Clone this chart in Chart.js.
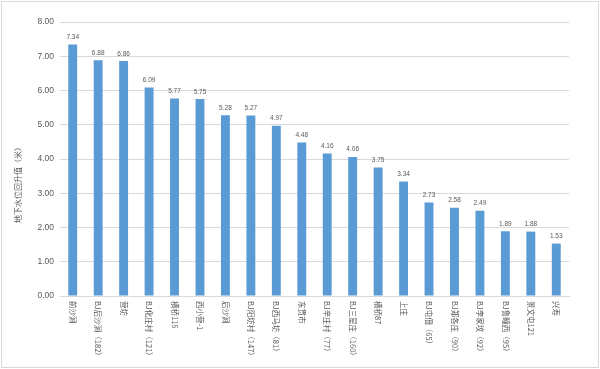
<!DOCTYPE html>
<html>
<head>
<meta charset="utf-8">
<script src="https://cdn.jsdelivr.net/npm/chart.js@4.4.1/dist/chart.umd.min.js"></script>
<style>
  html, body { margin: 0; padding: 0; background: #fff; }
  #wrap { width: 600px; height: 369px; position: relative; }
</style>
</head>
<body>
<div id="wrap"><canvas id="waterChart" width="600" height="369"></canvas></div>
<script>
const stations = ['前沙涧', 'BJ后沙涧（182）', '营坊', 'BJ化庄村（121）', '横桥116', '西小营-1', '后沙涧',
    'BJ阳坊村（147）', 'BJ西马坊（81）', '东贯市', 'BJ辛庄村（77）', 'BJ三星庄（160）', '横桥87', '上庄',
    'BJ屯佃（65）', 'BJ郑各庄（90）', 'BJ李家坟（92）', 'BJ鲁疃西（95）', '景文屯121', '兴寿'];
const riseValues = [7.34, 6.88, 6.86, 6.09, 5.77, 5.75, 5.28, 5.27, 4.97, 4.48,
    4.16, 4.06, 3.75, 3.34, 2.73, 2.58, 2.49, 1.89, 1.88, 1.53];
const yTicks = [0, 1, 2, 3, 4, 5, 6, 7, 8];
const yTitle = '地下水位回升值（米）';

const textColor = '#595959';
const cjkFont = '"Noto Sans CJK SC", "Noto Sans", sans-serif';

// frame, value labels, rotated category labels and y title
const extrasPlugin = {
    id: 'extras',
    beforeDraw(chart) {
        const ctx = chart.ctx;
        ctx.save();
        ctx.fillStyle = '#fff';
        ctx.fillRect(0, 0, chart.width, chart.height);
        ctx.strokeStyle = '#d9d9d9';
        ctx.lineWidth = 1;
        ctx.strokeRect(1.5, 1.5, chart.width - 3, chart.height - 3);
        ctx.restore();
    },
    afterDraw(chart) {
        const ctx = chart.ctx;
        const meta = chart.getDatasetMeta(0);
        const xScale = chart.scales.x;
        const area = chart.chartArea;
        ctx.save();

        // value labels
        ctx.fillStyle = textColor;
        ctx.font = '6.5px "Liberation Sans", Arial, sans-serif';
        ctx.textAlign = 'center';
        ctx.textBaseline = 'bottom';
        meta.data.forEach((bar, i) => {
            ctx.fillText(riseValues[i].toFixed(2), bar.x, bar.y - 4);
        });

        // category labels, rotated clockwise
        ctx.font = '7.5px ' + cjkFont;
        ctx.textAlign = 'left';
        ctx.textBaseline = 'middle';
        stations.forEach((name, i) => {
            const x = xScale.getPixelForValue(i);
            ctx.save();
            ctx.translate(x, area.bottom + 5);
            ctx.rotate(Math.PI / 2);
            ctx.fillText(name, 0, 0);
            ctx.restore();
        });

        // y axis title
        ctx.font = '8px ' + cjkFont;
        ctx.textAlign = 'center';
        ctx.textBaseline = 'middle';
        ctx.translate(18, 183);
        ctx.rotate(-Math.PI / 2);
        ctx.fillText(yTitle, 0, 0);
        ctx.restore();
    }
};

const ctx = document.getElementById('waterChart').getContext('2d');
new Chart(ctx, {
    type: 'bar',
    data: {
        labels: stations,
        datasets: [{
            data: riseValues,
            backgroundColor: '#5b9bd5',
            borderWidth: 0,
            barPercentage: 0.7,
            categoryPercentage: 0.5
        }]
    },
    options: {
        responsive: false,
        animation: false,
        devicePixelRatio: 1,
        layout: { padding: { left: 8, right: 31, top: 22, bottom: 3 } },
        plugins: {
            legend: { display: false },
            tooltip: { enabled: false }
        },
        scales: {
            x: {
                ticks: { display: false },
                grid: { display: false },
                border: { color: '#d9d9d9' },
                afterFit: scale => { scale.height = 70; }
            },
            y: {
                min: 0,
                max: 8,
                afterBuildTicks: scale => { scale.ticks = yTicks.map(v => ({ value: v })); },
                ticks: {
                    color: textColor,
                    padding: 6,
                    font: { family: '"Liberation Sans", Arial, sans-serif', size: 8.5 },
                    callback: v => Number(v).toFixed(2)
                },
                grid: { color: '#d9d9d9', drawTicks: false },
                border: { display: false },
                afterFit: scale => { scale.width = 52; }
            }
        }
    },
    plugins: [extrasPlugin]
});
</script>
</body>
</html>
